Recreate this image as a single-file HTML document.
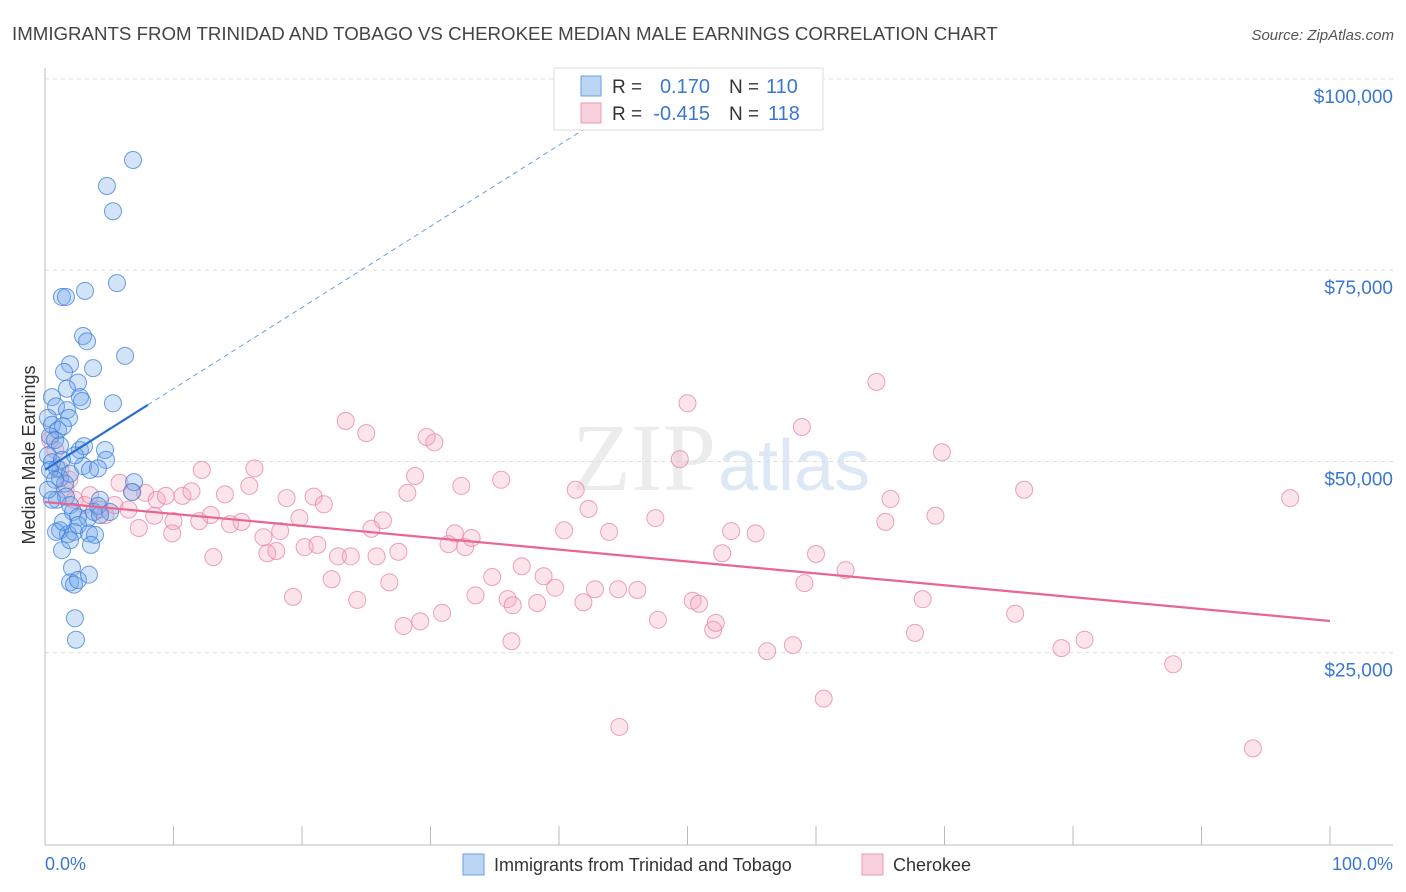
<!DOCTYPE html>
<html><head><meta charset="utf-8"><style>
body{margin:0;background:#fff;font-family:"Liberation Sans",sans-serif;}
svg{display:block}
</style></head><body>
<svg id="chart" width="1406" height="892">
<text x="12" y="40" font-size="18.7" fill="#444">IMMIGRANTS FROM TRINIDAD AND TOBAGO VS CHEROKEE MEDIAN MALE EARNINGS CORRELATION CHART</text>
<text x="1394" y="40" font-size="15" fill="#555" text-anchor="end" font-style="italic">Source: ZipAtlas.com</text>
<text x="716" y="490" font-size="96" fill="#ececec" text-anchor="end" font-family="Liberation Serif">ZIP</text>
<text x="718" y="490" font-size="72" fill="#dde8f6">atlas</text>
<g id="grid"></g>
<g id="marks"></g>
<text transform="translate(35,455) rotate(-90)" font-size="18" fill="#333" text-anchor="middle">Median Male Earnings</text>
<text x="45" y="870" font-size="18" fill="#3a78d0">0.0%</text>
<text x="1393" y="870" font-size="18" fill="#3a78d0" text-anchor="end">100.0%</text>
<g>
<rect x="463" y="854" width="21" height="21" fill="#bcd5f5" stroke="#6aa0e0"/>
<text x="494" y="871" font-size="18" fill="#333">Immigrants from Trinidad and Tobago</text>
<rect x="862" y="854" width="21" height="21" fill="#f8cfdc" stroke="#ee9ab5"/>
<text x="893" y="871" font-size="18" fill="#333">Cherokee</text>
</g>
<g>
<rect x="554" y="68" width="269" height="62" fill="#fff" stroke="#ddd"/>
<rect x="581" y="76" width="20" height="20" fill="#bcd5f5" stroke="#6aa0e0"/>
<text x="612" y="93" font-size="19" fill="#333">R =</text>
<text x="710" y="93" font-size="20" fill="#3a78d0" text-anchor="end">0.170</text>
<text x="729" y="93" font-size="19" fill="#333">N =</text>
<text x="766" y="93" font-size="20" fill="#3a78d0">110</text>
<rect x="581" y="103" width="20" height="20" fill="#f8cfdc" stroke="#ee9ab5"/>
<text x="612" y="120" font-size="19" fill="#333">R =</text>
<text x="710" y="120" font-size="20" fill="#3a78d0" text-anchor="end">-0.415</text>
<text x="729" y="120" font-size="19" fill="#333">N =</text>
<text x="768" y="120" font-size="20" fill="#3a78d0">118</text>
</g>
</svg>
<script>
const yTicks=[25000,50000,75000,100000];
const yTickLabels=["$25,000","$50,000","$75,000","$100,000"];
const xTickPct=[0,10,20,30,40,50,60,70,80,90,100];
const blueX=[6.85,4.82,5.29,5.6,1.32,1.63,3.11,2.96,3.27,6.23,1.95,3.74,1.48,2.57,1.71,2.72,5.29,0.54,0.86,1.71,1.87,2.88,0.23,0.54,1.01,1.4,0.39,0.78,1.17,0.23,0.54,0.93,1.32,0.39,1.17,1.56,1.95,2.96,2.72,3.03,4.67,4.75,4.12,3.5,2.33,0.93,1.63,1.95,2.18,2.57,3.35,3.81,4.28,4.12,6.93,6.77,1.17,1.79,2.26,2.57,3.42,3.89,0.86,1.4,3.58,2.1,1.95,2.26,2.57,3.42,2.33,2.41,0.54,0.78,0.23,1.32,1.95,5.06,4.28];
const blueY=[89400,86000,82700,73300,71500,71500,72300,66400,65700,63800,62700,62200,61700,60300,59500,58400,57600,58400,57200,56700,55700,57900,55700,54800,54100,54600,53300,52800,52100,50800,49900,49100,50200,48900,47800,47100,48400,49400,51500,52000,51500,50200,49100,48900,50800,45000,45400,44300,43400,42700,42600,43400,45000,44200,47300,46000,41000,40500,40800,41700,40600,40400,40800,42100,39100,36100,34200,33900,34500,35200,29500,26700,45000,47600,46300,38400,39700,43400,43000];
const pinkX=[5.8,6.8,7.8,8.7,9.4,10.7,11.4,12.2,14.0,15.9,16.3,13.1,10.0,8.5,7.3,9.9,12.0,12.9,14.4,15.3,17.0,17.3,18.0,18.3,18.8,19.3,19.8,20.2,20.9,21.2,21.7,22.3,22.8,23.4,23.8,24.3,25.0,25.4,25.8,26.3,26.8,27.5,27.9,28.2,28.8,29.2,29.7,30.3,30.9,31.4,31.9,32.4,32.7,33.2,33.5,34.8,35.5,36.0,36.4,36.3,37.1,38.3,38.8,39.7,40.4,41.3,41.9,42.3,42.8,43.9,44.6,44.7,46.1,47.5,47.7,49.4,50.0,50.4,50.9,52.0,52.2,52.7,53.4,55.3,56.2,58.2,58.9,59.1,60.0,60.6,62.3,64.7,65.4,65.8,67.7,68.3,69.3,69.8,75.5,76.2,79.1,80.9,87.8,94.0,96.9,0.4,0.8,1.2,1.6,1.9,2.3,3.1,3.5,4.3,4.7,5.4,6.5];
const pinkY=[47200,46000,45900,45000,45500,45500,46100,48900,45700,46800,49100,37500,42200,42900,41300,40600,42200,43000,41800,42100,40100,38000,38300,40900,45200,32300,42600,38800,45400,39100,44400,34600,37600,55300,37600,31900,53700,41200,37600,42300,34200,38200,28500,45900,48100,29100,53200,52500,30200,39200,40600,46800,38800,40000,32500,34900,47600,32000,31200,26500,36300,31500,35000,33500,41000,46300,31600,43800,33300,40800,33300,15300,33200,42600,29300,50300,57600,31800,31400,28000,28900,38000,40900,40600,25200,26000,54500,34100,37900,19000,35800,60400,42100,45100,27600,32000,42900,51200,30100,46300,25600,26700,23500,12500,45200,52800,51500,48900,46300,47600,45000,44300,45600,43700,43000,44300,43700];
const blueTrend=[48900,155000];
const pinkTrend=[44700,29150];
const NS='http://www.w3.org/2000/svg';
const xS=p=>45+p*12.85;
const yS=v=>844-v/130.7;
function mk(tag,attrs,parent){const e=document.createElementNS(NS,tag);for(const k in attrs)e.setAttribute(k,attrs[k]);parent.appendChild(e);return e;}
const grid=document.getElementById('grid'),marks=document.getElementById('marks');
yTicks.forEach((t,i)=>{
 const l=mk('line',{x1:45,x2:1393,y1:yS(t),y2:yS(t),stroke:'#ddd','stroke-dasharray':'4,4'},grid);
 
 
 const tx=mk('text',{x:1393,y:yS(t)+24,'font-size':19,fill:'#3a78d0','text-anchor':'end'},grid);
 tx.textContent=yTickLabels[i];
 
 
});
const ax=mk('line',{x1:45,x2:45,y1:68,y2:845,stroke:'#bbb'},grid);


const bx=mk('line',{x1:45,x2:1393,y1:845,y2:845,stroke:'#bbb'},grid);


xTickPct.forEach(p=>{
 const t=mk('line',{x1:xS(p),x2:xS(p),y1:826,y2:845,stroke:'#bbb'},grid);
 
 
});
pinkX.forEach((x,i)=>{
 const c=mk('circle',{cx:xS(x),cy:yS(pinkY[i]),r:8.5,fill:'rgba(245,165,190,0.3)',stroke:'rgba(232,130,165,0.75)','stroke-width':1},marks);
 
 
});
blueX.forEach((x,i)=>{
 const c=mk('circle',{cx:xS(x),cy:yS(blueY[i]),r:8.5,fill:'rgba(110,165,235,0.3)',stroke:'rgba(60,125,215,0.75)','stroke-width':1},marks);
 
 
});
const pt=mk('line',{x1:xS(0),y1:yS(pinkTrend[0]),x2:xS(100),y2:yS(pinkTrend[1]),stroke:'#e8668f','stroke-width':2.2},marks);


const bv=p=>blueTrend[0]+(blueTrend[1]-blueTrend[0])*p/100;
const bd=mk('line',{x1:xS(8),y1:yS(bv(8)),x2:xS(42),y2:yS(bv(42)),stroke:'#6a9ee0','stroke-width':1,'stroke-dasharray':'5,4'},marks);


const bt=mk('line',{x1:xS(0),y1:yS(bv(0)),x2:xS(8),y2:yS(bv(8)),stroke:'#2a6fd0','stroke-width':2.2},marks);


</script>
</body></html>
